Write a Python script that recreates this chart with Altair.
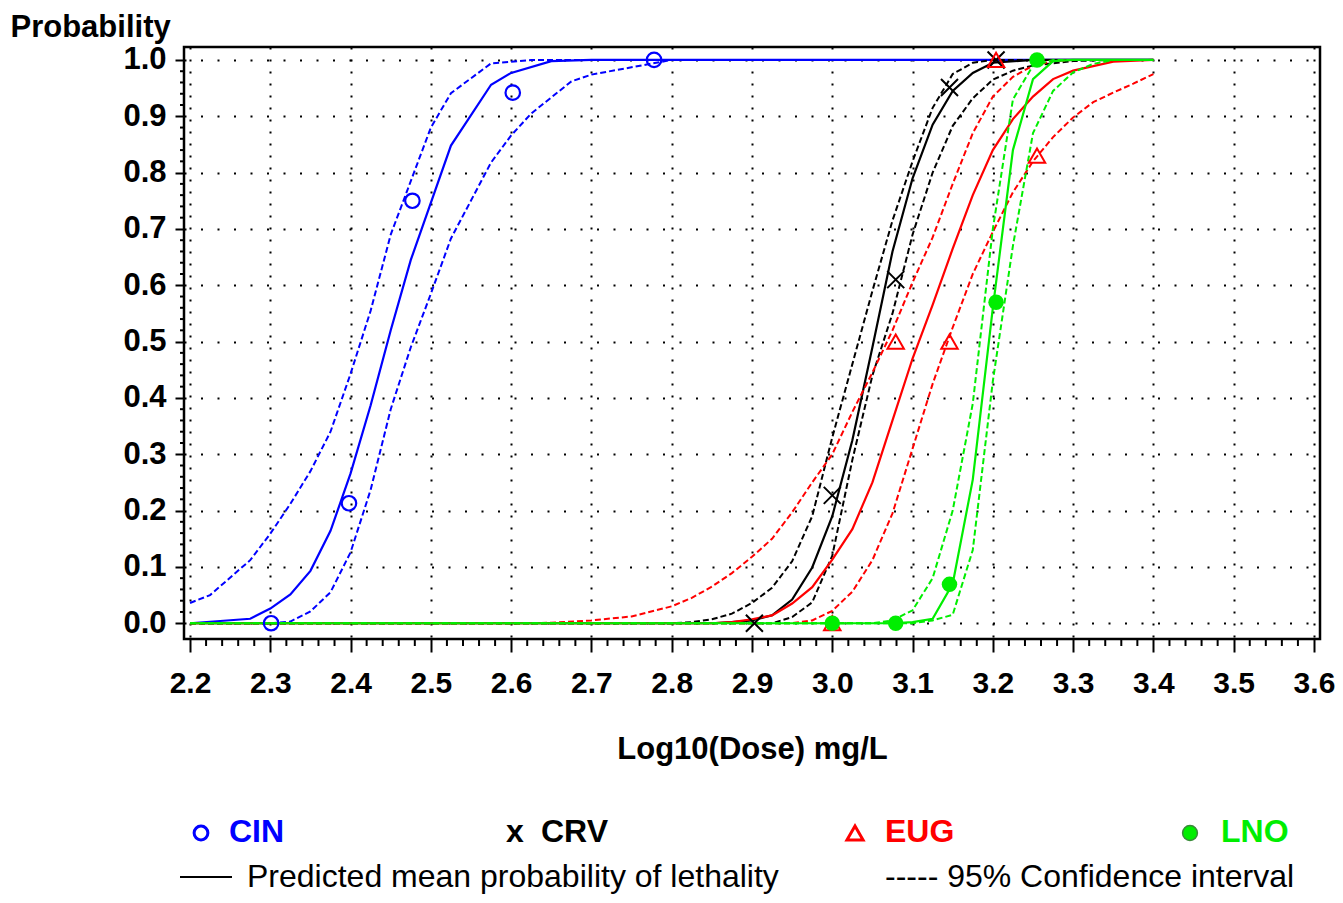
import altair as alt
import pandas as pd
import numpy as np

FONT = "Liberation Sans"

# ---------------- data ----------------
series = ["CIN", "CRV", "EUG", "LNO"]
colors = ["#0000ff", "#000000", "#ff0000", "#00ee00"]

# observed proportions (log10 dose, probability)
cin_obs_x = [2.301, 2.398, 2.477, 2.602, 2.778]
cin_obs_p = [0.0, 0.213, 0.75, 0.942, 1.0]
crv_obs_x = [2.903, 3.0, 3.079, 3.146, 3.204]
crv_obs_p = [0.0, 0.227, 0.61, 0.951, 1.0]
eug_obs_x = [3.0, 3.079, 3.146, 3.204, 3.255]
eug_obs_p = [0.0, 0.5, 0.5, 1.0, 0.83]
lno_obs_x = [3.0, 3.079, 3.146, 3.204, 3.255]
lno_obs_p = [0.0, 0.0, 0.069, 0.57, 1.0]

# CIN curves
cin_fit_x = [2.20, 2.275, 2.30, 2.325, 2.35, 2.375, 2.40, 2.425, 2.45, 2.475, 2.525, 2.575, 2.60, 2.65, 2.70, 3.40]
cin_fit_p = [0.0, 0.008, 0.026, 0.051, 0.093, 0.164, 0.266, 0.387, 0.52, 0.645, 0.848, 0.956, 0.977, 0.998, 1.0, 1.0]
cin_up_x = [2.20, 2.225, 2.275, 2.30, 2.325, 2.35, 2.375, 2.40, 2.425, 2.45, 2.50, 2.525, 2.575, 2.625, 3.40]
cin_up_p = [0.036, 0.05, 0.112, 0.159, 0.212, 0.27, 0.34, 0.443, 0.555, 0.69, 0.88, 0.941, 0.994, 1.0, 1.0]
cin_lo_x = [2.20, 2.30, 2.325, 2.35, 2.375, 2.40, 2.425, 2.45, 2.475, 2.50, 2.525, 2.575, 2.60, 2.625, 2.675, 2.70, 2.80, 3.40]
cin_lo_p = [0.0, 0.0, 0.003, 0.021, 0.055, 0.126, 0.237, 0.38, 0.49, 0.585, 0.683, 0.818, 0.866, 0.905, 0.962, 0.974, 1.0, 1.0]

# CRV curves
crv_fit_x = [2.20, 2.85, 2.875, 2.90, 2.925, 2.95, 2.975, 3.0, 3.025, 3.05, 3.075, 3.10, 3.125, 3.15, 3.175, 3.20, 3.25, 3.40]
crv_fit_p = [0.0, 0.0, 0.002, 0.005, 0.014, 0.042, 0.099, 0.19, 0.325, 0.49, 0.66, 0.79, 0.885, 0.945, 0.977, 0.995, 1.0, 1.0]
crv_up_x = [2.20, 2.80, 2.825, 2.85, 2.875, 2.90, 2.925, 2.95, 2.975, 3.0, 3.025, 3.05, 3.075, 3.10, 3.125, 3.15, 3.175, 3.20, 3.40]
crv_up_p = [0.0, 0.0, 0.002, 0.007, 0.017, 0.036, 0.063, 0.11, 0.19, 0.33, 0.46, 0.59, 0.715, 0.82, 0.915, 0.975, 0.995, 1.0, 1.0]
crv_lo_x = [2.20, 2.925, 2.95, 2.975, 3.0, 3.025, 3.05, 3.075, 3.10, 3.125, 3.15, 3.175, 3.20, 3.225, 3.25, 3.30, 3.35, 3.40]
crv_lo_p = [0.0, 0.0, 0.011, 0.037, 0.12, 0.29, 0.44, 0.55, 0.69, 0.80, 0.883, 0.932, 0.965, 0.981, 0.99, 0.998, 1.0, 1.0]

# EUG curves
eug_fit_x = [2.20, 2.85, 2.875, 2.90, 2.925, 2.95, 2.975, 3.0, 3.025, 3.05, 3.075, 3.10, 3.125, 3.15, 3.175, 3.20, 3.225, 3.25, 3.275, 3.30, 3.35, 3.40]
eug_fit_p = [0.0, 0.0, 0.002, 0.007, 0.014, 0.035, 0.064, 0.113, 0.167, 0.25, 0.36, 0.47, 0.565, 0.665, 0.76, 0.84, 0.895, 0.935, 0.966, 0.981, 0.997, 1.0]
eug_up_x = [2.20, 2.625, 2.65, 2.70, 2.75, 2.80, 2.825, 2.85, 2.875, 2.90, 2.925, 2.95, 2.975, 3.0, 3.025, 3.05, 3.075, 3.10, 3.125, 3.15, 3.175, 3.20, 3.225, 3.25, 3.275, 3.30, 3.40]
eug_up_p = [0.0, 0.0, 0.001, 0.005, 0.012, 0.03, 0.045, 0.065, 0.089, 0.118, 0.15, 0.197, 0.25, 0.30, 0.375, 0.445, 0.52, 0.605, 0.685, 0.78, 0.87, 0.935, 0.97, 0.99, 0.998, 1.0, 1.0]
eug_lo_x = [2.20, 2.95, 2.975, 3.0, 3.025, 3.05, 3.075, 3.10, 3.125, 3.15, 3.175, 3.20, 3.225, 3.25, 3.275, 3.30, 3.325, 3.35, 3.375, 3.40]
eug_lo_p = [0.0, 0.0, 0.005, 0.022, 0.056, 0.112, 0.195, 0.31, 0.425, 0.525, 0.62, 0.695, 0.765, 0.82, 0.863, 0.898, 0.925, 0.942, 0.958, 0.975]

# LNO curves
lno_fit_x = [2.20, 3.075, 3.10, 3.125, 3.15, 3.175, 3.20, 3.225, 3.25, 3.275, 3.30, 3.40]
lno_fit_p = [0.0, 0.0, 0.002, 0.008, 0.07, 0.255, 0.56, 0.84, 0.966, 0.998, 1.0, 1.0]
lno_up_x = [2.20, 3.05, 3.075, 3.10, 3.125, 3.15, 3.175, 3.20, 3.225, 3.25, 3.275, 3.40]
lno_up_p = [0.0, 0.0, 0.005, 0.023, 0.08, 0.20, 0.39, 0.70, 0.93, 0.99, 1.0, 1.0]
lno_lo_x = [2.20, 3.10, 3.125, 3.15, 3.175, 3.20, 3.225, 3.25, 3.275, 3.30, 3.325, 3.35, 3.40]
lno_lo_p = [0.0, 0.0, 0.005, 0.015, 0.13, 0.43, 0.67, 0.87, 0.945, 0.978, 0.993, 1.0, 1.0]

x_ticks = [2.2, 2.3, 2.4, 2.5, 2.6, 2.7, 2.8, 2.9, 3.0, 3.1, 3.2, 3.3, 3.4, 3.5, 3.6]
y_ticks = [0.0, 0.1, 0.2, 0.3, 0.4, 0.5, 0.6, 0.7, 0.8, 0.9, 1.0]

curves = {
    "CIN": (cin_fit_x, cin_fit_p, cin_up_x, cin_up_p, cin_lo_x, cin_lo_p, cin_obs_x, cin_obs_p),
    "CRV": (crv_fit_x, crv_fit_p, crv_up_x, crv_up_p, crv_lo_x, crv_lo_p, crv_obs_x, crv_obs_p),
    "EUG": (eug_fit_x, eug_fit_p, eug_up_x, eug_up_p, eug_lo_x, eug_lo_p, eug_obs_x, eug_obs_p),
    "LNO": (lno_fit_x, lno_fit_p, lno_up_x, lno_up_p, lno_lo_x, lno_lo_p, lno_obs_x, lno_obs_p),
}

# ---------------- encodings ----------------
W, H = 1136, 592

X = alt.X(
    "x:Q",
    scale=alt.Scale(domain=[2.1925, 3.6075], nice=False, zero=False),
    axis=alt.Axis(
        values=x_ticks, format=".1f", labelFontSize=30, labelFontWeight="bold",
        labelFont=FONT, labelColor="black", labelPadding=16,
        tickSize=13, tickWidth=2, tickColor="black", domain=False,
        grid=True, gridDash=[2, 10], gridWidth=2, gridColor="black",
        title="Log10(Dose) mg/L", titleFont=FONT, titleFontSize=31,
        titleFontWeight="bold", titleColor="black", titleY=110,
        titleBaseline="middle",
    ),
)
Y = alt.Y(
    "p:Q",
    scale=alt.Scale(domain=[-0.028, 1.023], nice=False, zero=False),
    axis=alt.Axis(
        values=y_ticks, format=".1f", labelFontSize=31, labelFontWeight="bold",
        labelFont=FONT, labelColor="black", labelPadding=9,
        tickSize=9, tickWidth=2, tickColor="black", domain=False,
        grid=True, gridDash=[2, 14.5], gridWidth=2, gridColor="black",
        title="Probability", titleFont=FONT, titleFontSize=31,
        titleFontWeight="bold", titleColor="black", titleAngle=0,
        titleAlign="left", titleBaseline="middle", titleX=-174, titleY=-20,
    ),
)

layers = []

# minor ticks (decoration of the axes)
minor_x = [v for v in np.round(np.arange(2.2, 3.6001, 0.02), 2) if abs(v * 10 - round(v * 10)) > 1e-6]
minor_y = [v for v in np.round(np.arange(0.0, 1.0001, 0.02), 2) if abs(v * 10 - round(v * 10)) > 1e-6]
layers.append(
    alt.Chart(pd.DataFrame({"x": minor_x})).mark_rule(color="black", strokeWidth=2).encode(
        x=X, y=alt.value(H), y2=alt.value(H + 7)
    )
)
layers.append(
    alt.Chart(pd.DataFrame({"p": minor_y})).mark_rule(color="black", strokeWidth=2).encode(
        y=Y, x=alt.value(0), x2=alt.value(-4)
    )
)

marker_style = {
    "CIN": dict(shape="circle", filled=False, strokeWidth=2.2, size=210),
    "CRV": dict(shape="M-1,-1L1,1M-1,1L1,-1", filled=False, strokeWidth=2, size=290),
    "EUG": dict(shape="triangle-up", filled=False, strokeWidth=2, size=270),
    "LNO": dict(shape="circle", filled=True, strokeWidth=0, size=240),
}

for name, col in zip(series, colors):
    fx, fp, ux, up, lx, lp, ox, op = curves[name]
    for cx, cp in ((lx, lp), (ux, up)):
        layers.append(
            alt.Chart(pd.DataFrame({"x": cx, "p": cp})).mark_line(
                color=col, strokeWidth=2, strokeDash=[6, 3]
            ).encode(x=X, y=Y)
        )
    layers.append(
        alt.Chart(pd.DataFrame({"x": fx, "p": fp})).mark_line(
            color=col, strokeWidth=2.2
        ).encode(x=X, y=Y)
    )

for name, col in zip(series, colors):
    fx, fp, ux, up, lx, lp, ox, op = curves[name]
    layers.append(
        alt.Chart(pd.DataFrame({"x": ox, "p": op})).mark_point(
            color=col, opacity=1, **marker_style[name]
        ).encode(x=X, y=Y)
    )

# ---------------- legend (drawn below the plot) ----------------
one = pd.DataFrame({"a": [0]})
ROW1, ROW2 = 785, 830

def txt(label, x, y, color, size, weight):
    return alt.Chart(one).mark_text(
        align="left", baseline="middle", font=FONT, fontSize=size,
        fontWeight=weight, color=color
    ).encode(x=alt.value(x), y=alt.value(y), text=alt.value(label))

layers.append(alt.Chart(one).mark_point(shape="circle", filled=False, color=colors[0], strokeWidth=3, size=190, opacity=1).encode(x=alt.value(17), y=alt.value(ROW1 + 1)))
layers.append(txt("CIN", 45, ROW1, colors[0], 32, "bold"))
layers.append(txt("x", 322, ROW1, colors[1], 32, "bold"))
layers.append(txt("CRV", 357, ROW1, colors[1], 32, "bold"))
layers.append(alt.Chart(one).mark_point(shape="triangle-up", filled=False, color=colors[2], strokeWidth=3, size=260, opacity=1).encode(x=alt.value(671), y=alt.value(ROW1 + 1)))
layers.append(txt("EUG", 701, ROW1, colors[2], 32, "bold"))
layers.append(alt.Chart(one).mark_point(shape="circle", filled=True, fill=colors[3], stroke="#3a8a3a", strokeWidth=1.5, size=220, opacity=1).encode(x=alt.value(1006), y=alt.value(ROW1 + 1)))
layers.append(txt("LNO", 1037, ROW1, colors[3], 32, "bold"))

layers.append(alt.Chart(one).mark_rule(color="black", strokeWidth=2).encode(x=alt.value(-4), x2=alt.value(48), y=alt.value(ROW2)))
layers.append(txt("Predicted mean probability of lethality", 63, ROW2, "black", 32, "normal"))
layers.append(txt("----- 95% Confidence interval", 701, ROW2, "black", 32, "normal"))

chart = alt.layer(*layers).properties(
    width=W, height=H,
    padding={"left": 176, "top": 39, "right": 15, "bottom": 256},
    autosize=alt.AutoSizeParams(type="none"),
    background="white",
).configure_view(stroke="black", strokeWidth=2.5).configure_axis(labelFlush=False)

chart.save("out.html", embed_options={"renderer": "svg", "actions": False})
